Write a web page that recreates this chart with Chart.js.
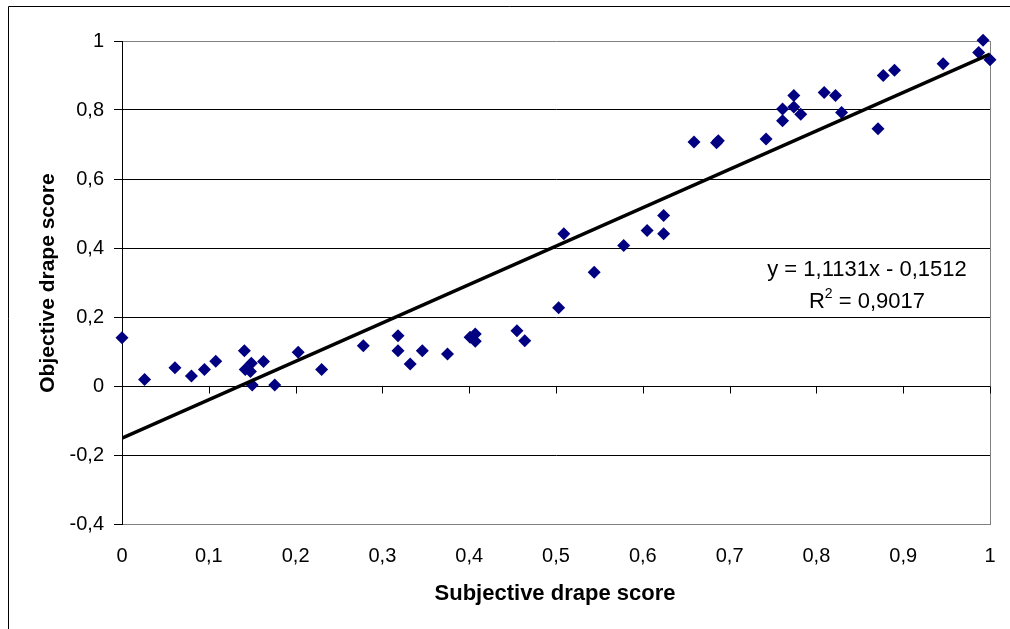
<!DOCTYPE html>
<html>
<head>
<meta charset="utf-8">
<script src="https://cdn.jsdelivr.net/npm/chart.js@4/dist/chart.umd.min.js"></script>
<style>
  html, body { margin: 0; padding: 0; background: #fff; }
  canvas { display: block; }
</style>
</head>
<body>
<canvas id="c" width="1010" height="629"></canvas>
<script>
// Subjective vs objective drape scores for each fabric sample
const subjective = [0.000, 0.026, 0.061, 0.080, 0.095, 0.108, 0.141, 0.142, 0.149, 0.148,
  0.163, 0.150, 0.176, 0.203, 0.230, 0.278, 0.318, 0.318, 0.332, 0.346,
  0.375, 0.401, 0.407, 0.407, 0.455, 0.464, 0.503, 0.509, 0.544, 0.578,
  0.605, 0.624, 0.624, 0.659, 0.685, 0.687, 0.742, 0.761, 0.761, 0.774,
  0.774, 0.782, 0.809, 0.822, 0.829, 0.871, 0.877, 0.890, 0.946, 0.987,
  0.992, 1.000];
const objective = [0.140, 0.019, 0.053, 0.029, 0.048, 0.072, 0.102, 0.048, 0.066, 0.042,
  0.071, 0.003, 0.003, 0.098, 0.048, 0.117, 0.146, 0.102, 0.064, 0.102,
  0.093, 0.141, 0.151, 0.130, 0.160, 0.131, 0.227, 0.441, 0.330, 0.407,
  0.451, 0.494, 0.441, 0.707, 0.705, 0.711, 0.716, 0.803, 0.769, 0.842,
  0.809, 0.788, 0.851, 0.842, 0.793, 0.746, 0.900, 0.915, 0.934, 0.967,
  1.002, 0.946];

// Linear trend line: y = slope * x + intercept
const trendSlope = 1.1131;
const trendIntercept = -0.1512;
const trendRange = [0, 1];
const rSquared = '0,9017';

const xTickLabels = ['0', '0,1', '0,2', '0,3', '0,4', '0,5', '0,6', '0,7', '0,8', '0,9', '1'];
const yTickLabels = ['-0,4', '-0,2', '0', '0,2', '0,4', '0,6', '0,8', '1'];

const xTitle = 'Subjective drape score';
const yTitle = 'Objective drape score';
const equationText = 'y = 1,1131x - 0,1512';

const FONT = "'Liberation Sans', Arial, sans-serif";

const points = subjective.map((x, i) => ({ x: x, y: objective[i] }));
const trendPoints = trendRange.map(x => ({ x: x, y: trendSlope * x + trendIntercept }));

const decorations = {
  id: 'decorations',
  beforeDraw(chart) {
    const ctx = chart.ctx;
    ctx.save();
    ctx.fillStyle = '#fff';
    ctx.fillRect(0, 0, chart.width, chart.height);
    // outer frame
    ctx.strokeStyle = '#000';
    ctx.lineWidth = 1;
    ctx.beginPath();
    ctx.moveTo(8.5, chart.height + 2);
    ctx.lineTo(8.5, 6.5);
    ctx.lineTo(chart.width + 2, 6.5);
    ctx.stroke();
    ctx.restore();
  },
  beforeDatasetsDraw(chart) {
    const ctx = chart.ctx;
    const area = chart.chartArea;
    const xs = chart.scales.x;
    const ys = chart.scales.y;
    ctx.save();
    ctx.lineWidth = 1;
    // plot area right edge
    ctx.strokeStyle = '#808080';
    ctx.beginPath();
    ctx.moveTo(Math.round(area.right) + 0.5, area.top);
    ctx.lineTo(Math.round(area.right) + 0.5, area.bottom);
    ctx.stroke();
    // horizontal axis crossing at y = 0, ticks pointing down
    const y0 = Math.round(ys.getPixelForValue(0)) + 0.5;
    ctx.strokeStyle = '#000';
    ctx.beginPath();
    ctx.moveTo(area.left, y0);
    ctx.lineTo(area.right, y0);
    xs.ticks.forEach(t => {
      const px = Math.round(xs.getPixelForValue(t.value)) + 0.5;
      ctx.moveTo(px, y0);
      ctx.lineTo(px, y0 + 7);
    });
    ctx.stroke();
    ctx.restore();
  },
  afterDraw(chart) {
    const ctx = chart.ctx;
    ctx.save();
    ctx.fillStyle = '#000';
    ctx.textBaseline = 'middle';
    ctx.textAlign = 'center';
    // axis titles
    ctx.font = 'bold 22px ' + FONT;
    ctx.fillText(xTitle, 555, 594);
    ctx.save();
    ctx.translate(48, 283);
    ctx.rotate(-Math.PI / 2);
    ctx.font = 'bold 21px ' + FONT;
    ctx.fillText(yTitle, 0, 0);
    ctx.restore();
    // trend equation
    ctx.font = '22px ' + FONT;
    ctx.fillText(equationText, 867, 270);
    const cx = 867, cy = 302;
    ctx.textAlign = 'left';
    const wR = ctx.measureText('R').width;
    const rest = ' = ' + rSquared;
    const wRest = ctx.measureText(rest).width;
    ctx.font = '14px ' + FONT;
    const wSup = ctx.measureText('2').width;
    const total = wR + wSup + wRest;
    let x = cx - total / 2;
    ctx.font = '22px ' + FONT;
    ctx.fillText('R', x, cy);
    x += wR;
    ctx.font = '14px ' + FONT;
    ctx.fillText('2', x, cy - 8);
    x += wSup;
    ctx.font = '22px ' + FONT;
    ctx.fillText(rest, x, cy);
    ctx.restore();
  }
};

new Chart(document.getElementById('c'), {
  type: 'scatter',
  data: {
    datasets: [
      {
        type: 'line',
        data: trendPoints,
        borderColor: '#000',
        borderWidth: 3.5,
        pointRadius: 0,
        fill: false,
        order: 0
      },
      {
        data: points,
        backgroundColor: '#000080',
        borderColor: '#000080',
        borderWidth: 0,
        pointStyle: 'rectRot',
        pointRadius: 6.5,
        pointHoverRadius: 6.5,
        clip: false,
        order: 1
      }
    ]
  },
  options: {
    responsive: false,
    animation: false,
    devicePixelRatio: 1,
    layout: { autoPadding: false, padding: { top: 41, right: 20, bottom: 0, left: 0 } },
    plugins: { legend: { display: false }, tooltip: { enabled: false } },
    scales: {
      x: {
        type: 'linear',
        min: 0,
        max: 1,
        afterFit(s) {
          s.height = 105;
          s.paddingLeft = 0;
          s.paddingRight = 0;
        },
        ticks: {
          stepSize: 0.1,
          autoSkip: false,
          maxRotation: 0,
          padding: 20,
          color: '#000',
          font: { family: FONT, size: 20 },
          callback: (v, i) => xTickLabels[i]
        },
        grid: { display: false, drawTicks: false },
        border: { display: true, color: '#808080', width: 1 }
      },
      y: {
        type: 'linear',
        min: -0.4,
        max: 1,
        afterFit(s) { s.width = 122; },
        ticks: {
          stepSize: 0.2,
          padding: 10,
          color: '#000',
          font: { family: FONT, size: 20 },
          callback: (v, i) => yTickLabels[i]
        },
        grid: {
          color: c => (c.index === 0 || c.index === yTickLabels.length - 1) ? '#808080' : '#000',
          tickColor: '#000',
          tickLength: 8,
          lineWidth: 1
        },
        border: { display: true, color: '#000', width: 1 }
      }
    }
  },
  plugins: [decorations]
});
</script>
</body>
</html>
